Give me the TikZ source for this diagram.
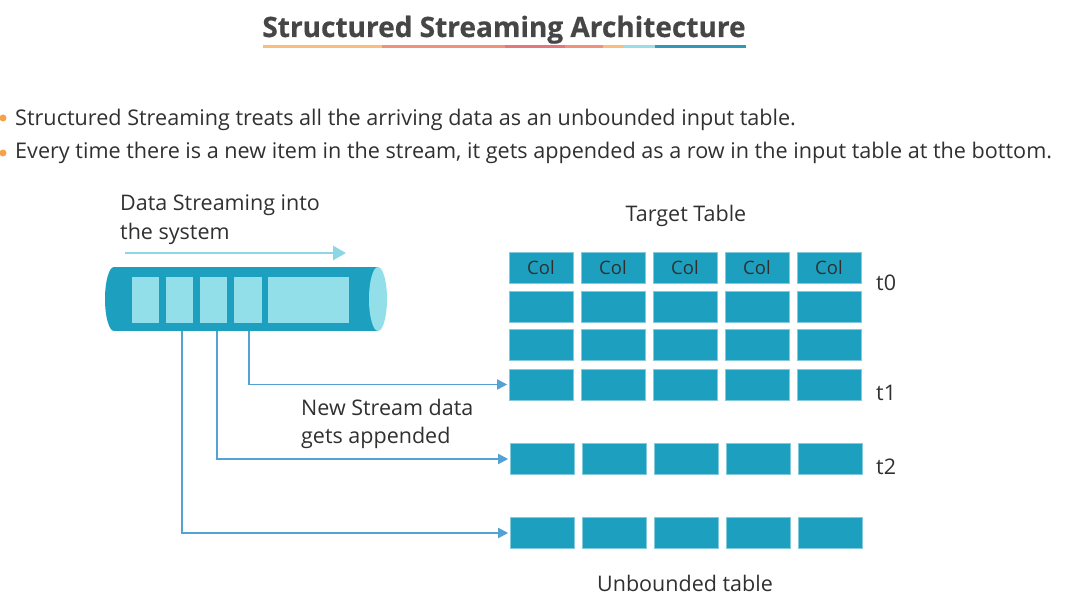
\documentclass[tikz,border=0pt]{standalone}
\usepackage{fontspec}
\setmainfont{Open Sans}
\newfontfamily\titlefont[FakeBold=0.6]{Open Sans Bold}
\usetikzlibrary{arrows.meta}

\definecolor{cellblue}{RGB}{29,160,191}
\definecolor{slotblue}{RGB}{146,223,234}
\definecolor{flowblue}{RGB}{140,215,230}
\definecolor{linkblue}{RGB}{84,162,212}
\definecolor{textgray}{RGB}{48,48,48}
\definecolor{titlegray}{RGB}{70,70,70}
\definecolor{dotorange}{RGB}{245,162,72}

\tikzset{
  cell/.style={fill=cellblue, draw=cellblue!55!white, line width=0.6pt,
    minimum width=64pt, minimum height=31pt, inner sep=0pt,
    text=textgray, font=\fontsize{18.5}{22}\selectfont},
  slot/.style={fill=slotblue, minimum height=46pt, inner sep=0pt},
  txt/.style={text=textgray, font=\fontsize{21.5}{25}\selectfont, inner sep=0pt},
  dot/.style={circle, fill=dotorange, minimum size=7pt, inner sep=0pt},
  link/.style={draw=linkblue, line width=1.8pt, -{Triangle[length=10pt,width=10pt]}},
}

\begin{document}
\begin{tikzpicture}[x=1pt,y=-1pt]
\useasboundingbox (0,0) rectangle (1066,607);

% title
\node[anchor=base, inner sep=0pt, text=titlegray,
  font=\titlefont\fontsize{28}{32}\selectfont] (title) at (504,37) {Structured Streaming Architecture};
\draw[line width=3pt, color={rgb,255:red,249;green,190;blue,124}] (263,47) -- (382,47);
\draw[line width=3pt, color={rgb,255:red,242;green,145;blue,122}] (382,47) -- (505,47);
\draw[line width=3pt, color={rgb,255:red,232;green,116;blue,124}] (505,47) -- (565,47);
\draw[line width=3pt, color={rgb,255:red,242;green,145;blue,122}] (565,47) -- (603,47);
\draw[line width=3pt, color={rgb,255:red,249;green,190;blue,124}] (603,47) -- (623,47);
\draw[line width=3pt, color={rgb,255:red,154;green,220;blue,232}] (623,47) -- (655,47);
\draw[line width=3pt, color={rgb,255:red,46;green,154;blue,184}] (655,47) -- (746,47);

% bullets
\node[dot] (d1) at (3,118) {};
\node[txt, anchor=base west, font=\fontsize{21.6}{25}\selectfont] (l1) at (15,126)
  {Structured Streaming treats all the arriving data as an unbounded input table.};
\node[dot] (d2) at (3,153) {};
\node[txt, anchor=base west, font=\fontsize{21.6}{25}\selectfont] (l2) at (15,159)
  {Every time there is a new item in the stream, it gets appended as a row in the input table at the bottom.};

% stream pipe
\node[txt, anchor=base west] (flow1) at (120,211) {Data Streaming into};
\node[txt, anchor=base west] (flow2) at (120,239) {the system};
\coordinate (fa) at (125,253);
\coordinate (fb) at (346,253);
\path[draw, flowblue, line width=2.8pt, -{Triangle[length=13pt,width=14pt]}] (fa) -- (fb);

\fill[cellblue] (114,299) ellipse (9pt and 32pt);
\fill[cellblue] (114,267) rectangle (378,331);
\fill[slotblue] (378,299) ellipse (9pt and 32pt);
\node[slot, minimum width=27pt] (s1) at (145.5,300) {};
\node[slot, minimum width=27pt] (s2) at (179.5,300) {};
\node[slot, minimum width=27pt] (s3) at (213.5,300) {};
\node[slot, minimum width=28pt] (s4) at (248,300) {};
\node[slot, minimum width=81pt] (s5) at (308.5,300) {};

\coordinate (p1) at (182,331);
\coordinate (p2) at (217,331);
\coordinate (p3) at (249,331);

% target table
\node[txt, anchor=base] (target) at (686,221) {Target Table};

\node[cell] (a1) at (541,267.5) {Col};
\node[cell] (a2) at (613,267.5) {Col};
\node[cell] (a3) at (685,267.5) {Col};
\node[cell] (a4) at (757,267.5) {Col};
\node[cell] (a5) at (829,267.5) {Col};

\node[cell] (b1) at (541,307) {};
\node[cell] (b2) at (613,307) {};
\node[cell] (b3) at (685,307) {};
\node[cell] (b4) at (757,307) {};
\node[cell] (b5) at (829,307) {};

\node[cell] (c1) at (541,345) {};
\node[cell] (c2) at (613,345) {};
\node[cell] (c3) at (685,345) {};
\node[cell] (c4) at (757,345) {};
\node[cell] (c5) at (829,345) {};

\node[cell] (d1) at (541,384.5) {};
\node[cell] (d2) at (613,384.5) {};
\node[cell] (d3) at (685,384.5) {};
\node[cell] (d4) at (757,384.5) {};
\node[cell] (d5) at (829,384.5) {};

\node[cell] (e1) at (542.5,459) {};
\node[cell] (e2) at (614.5,459) {};
\node[cell] (e3) at (686.5,459) {};
\node[cell] (e4) at (758.5,459) {};
\node[cell] (e5) at (830.5,459) {};

\node[cell] (f1) at (542.5,533) {};
\node[cell] (f2) at (614.5,533) {};
\node[cell] (f3) at (686.5,533) {};
\node[cell] (f4) at (758.5,533) {};
\node[cell] (f5) at (830.5,533) {};

\node[txt, anchor=base west] (t0) at (876,290) {t0};
\node[txt, anchor=base west] (t1) at (876,400) {t1};
\node[txt, anchor=base west] (t2) at (876,474) {t2};
\node[txt, anchor=base] (unbounded) at (685,591) {Unbounded table};

% appended rows
\node[txt, anchor=base west] (new1) at (301,415) {New Stream data};
\node[txt, anchor=base west] (new2) at (301,443) {gets appended};

\path[link, shorten >=1.5pt] (p3) |- (d1.west);
\path[link, shorten >=2pt] (p2) |- (e1.west);
\path[link, shorten >=2pt] (p1) |- (f1.west);
\end{tikzpicture}
\end{document}
